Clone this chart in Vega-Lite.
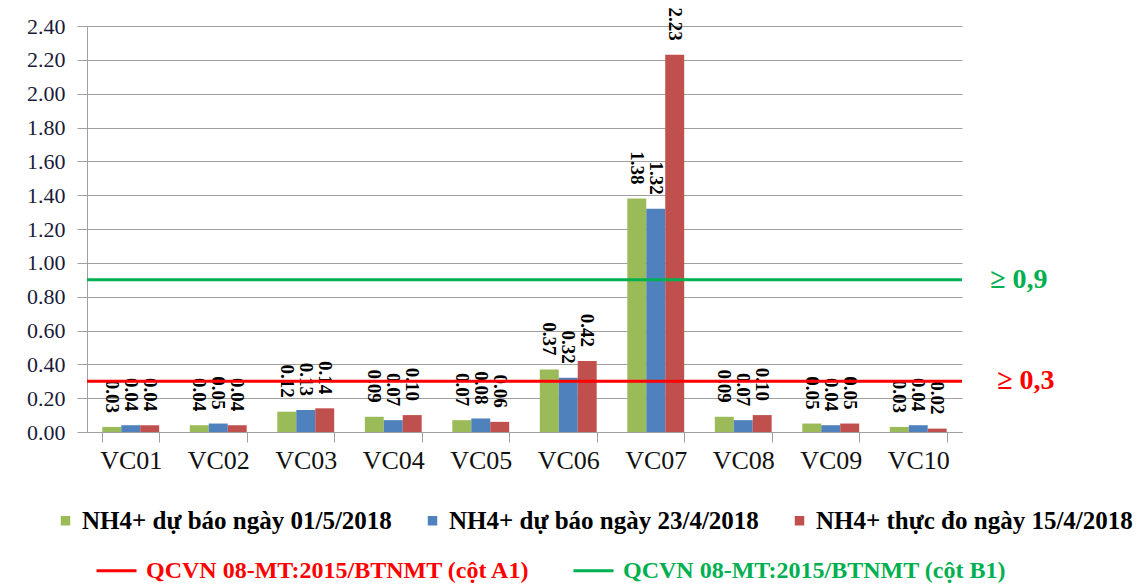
{
  "$schema": "https://vega.github.io/schema/vega-lite/v6.json",
  "width": 875,
  "height": 406,
  "autosize": {"type": "none"},
  "padding": {"left": 87, "top": 26, "right": 181, "bottom": 152},
  "background": "white",
  "config": {
    "view": {"stroke": null},
    "font": "Times New Roman, Liberation Serif, serif",
    "axis": {"gridColor": "#a0a0a0", "tickColor": "#a0a0a0", "domainColor": "#a0a0a0", "labelFont": "Times New Roman, Liberation Serif, serif", "labelColor": "#1a1a1a", "title": null},
    "legend": {"labelFont": "Times New Roman, Liberation Serif, serif"}
  },
  "datasets": {
    "bars": [
      {"site": "VC01", "series": "NH4+ dự báo ngày 01/5/2018", "value": 0.03},
      {"site": "VC01", "series": "NH4+ dự báo ngày 23/4/2018", "value": 0.04},
      {"site": "VC01", "series": "NH4+ thực đo ngày 15/4/2018", "value": 0.04},
      {"site": "VC02", "series": "NH4+ dự báo ngày 01/5/2018", "value": 0.04},
      {"site": "VC02", "series": "NH4+ dự báo ngày 23/4/2018", "value": 0.05},
      {"site": "VC02", "series": "NH4+ thực đo ngày 15/4/2018", "value": 0.04},
      {"site": "VC03", "series": "NH4+ dự báo ngày 01/5/2018", "value": 0.12},
      {"site": "VC03", "series": "NH4+ dự báo ngày 23/4/2018", "value": 0.13},
      {"site": "VC03", "series": "NH4+ thực đo ngày 15/4/2018", "value": 0.14},
      {"site": "VC04", "series": "NH4+ dự báo ngày 01/5/2018", "value": 0.09},
      {"site": "VC04", "series": "NH4+ dự báo ngày 23/4/2018", "value": 0.07},
      {"site": "VC04", "series": "NH4+ thực đo ngày 15/4/2018", "value": 0.10},
      {"site": "VC05", "series": "NH4+ dự báo ngày 01/5/2018", "value": 0.07},
      {"site": "VC05", "series": "NH4+ dự báo ngày 23/4/2018", "value": 0.08},
      {"site": "VC05", "series": "NH4+ thực đo ngày 15/4/2018", "value": 0.06},
      {"site": "VC06", "series": "NH4+ dự báo ngày 01/5/2018", "value": 0.37},
      {"site": "VC06", "series": "NH4+ dự báo ngày 23/4/2018", "value": 0.32},
      {"site": "VC06", "series": "NH4+ thực đo ngày 15/4/2018", "value": 0.42},
      {"site": "VC07", "series": "NH4+ dự báo ngày 01/5/2018", "value": 1.38},
      {"site": "VC07", "series": "NH4+ dự báo ngày 23/4/2018", "value": 1.32},
      {"site": "VC07", "series": "NH4+ thực đo ngày 15/4/2018", "value": 2.23},
      {"site": "VC08", "series": "NH4+ dự báo ngày 01/5/2018", "value": 0.09},
      {"site": "VC08", "series": "NH4+ dự báo ngày 23/4/2018", "value": 0.07},
      {"site": "VC08", "series": "NH4+ thực đo ngày 15/4/2018", "value": 0.10},
      {"site": "VC09", "series": "NH4+ dự báo ngày 01/5/2018", "value": 0.05},
      {"site": "VC09", "series": "NH4+ dự báo ngày 23/4/2018", "value": 0.04},
      {"site": "VC09", "series": "NH4+ thực đo ngày 15/4/2018", "value": 0.05},
      {"site": "VC10", "series": "NH4+ dự báo ngày 01/5/2018", "value": 0.03},
      {"site": "VC10", "series": "NH4+ dự báo ngày 23/4/2018", "value": 0.04},
      {"site": "VC10", "series": "NH4+ thực đo ngày 15/4/2018", "value": 0.02}
    ],
    "thr": [
      {"name": "QCVN 08-MT:2015/BTNMT (cột A1)", "value": 0.3, "label": "≥ 0,3"},
      {"name": "QCVN 08-MT:2015/BTNMT (cột B1)", "value": 0.9, "label": "≥ 0,9"}
    ]
  },
  "encoding": {
    "y": {"field": "value", "type": "quantitative",
      "scale": {"domain": [0, 2.4], "nice": false},
      "axis": {"values": [0, 0.2, 0.4, 0.6, 0.8, 1.0, 1.2, 1.4, 1.6, 1.8, 2.0, 2.2, 2.4], "tickCount": 20, "format": ".2f", "labelFontSize": 22, "labelOverlap": false, "labelColor": "#1a1a3a", "tickSize": 10, "labelPadding": 12, "grid": true}}
  },
  "layer": [
    {
      "data": {"name": "bars"},
      "mark": {"type": "bar"},
      "encoding": {
        "x": {"field": "site", "type": "nominal", "sort": null,
          "scale": {"paddingInner": 0.35, "paddingOuter": 0.175},
          "axis": {"labelAngle": 0, "labelFontSize": 26, "labelColor": "#111111", "tickBand": "extent", "tickSize": 10, "labelPadding": 5, "grid": false}},
        "xOffset": {"field": "series", "type": "nominal", "sort": null, "scale": {"paddingInner": 0, "paddingOuter": 0}},
        "color": {"field": "series", "type": "nominal", "sort": null,
          "scale": {"domain": ["NH4+ dự báo ngày 01/5/2018", "NH4+ dự báo ngày 23/4/2018", "NH4+ thực đo ngày 15/4/2018"], "range": ["#9bbb59", "#4f81bd", "#c0504d"]},
          "legend": {"title": null, "orient": "none", "legendX": -34, "legendY": 482, "direction": "horizontal", "columns": 3, "columnPadding": 28, "symbolType": "square", "symbolSize": 90, "symbolStrokeWidth": 0, "labelFont": "Times New Roman, Liberation Serif, serif", "labelFontWeight": "bold", "labelFontSize": 25, "labelColor": "#000000", "labelOffset": 4, "labelLimit": 0}}
      }
    },
    {
      "data": {"name": "bars"},
      "mark": {"type": "text", "angle": 90, "align": "right", "baseline": "middle", "dx": -14, "font": "Times New Roman, Liberation Serif, serif", "fontWeight": "bold", "fontSize": 19, "color": "#000000"},
      "encoding": {
        "x": {"field": "site", "type": "nominal", "sort": null},
        "xOffset": {"field": "series", "type": "nominal", "sort": null},
        "text": {"field": "value", "type": "quantitative", "format": ".2f"}
      }
    },
    {
      "data": {"name": "thr"},
      "mark": {"type": "rule", "strokeWidth": 3},
      "encoding": {
        "stroke": {"field": "name", "type": "nominal",
          "scale": {"domain": ["QCVN 08-MT:2015/BTNMT (cột A1)", "QCVN 08-MT:2015/BTNMT (cột B1)"], "range": ["#ff0000", "#00b050"]},
          "legend": {"title": null, "orient": "none", "legendX": 8, "legendY": 523, "direction": "horizontal", "columns": 2, "columnPadding": 36, "symbolType": "stroke", "symbolSize": 1600, "symbolStrokeWidth": 3, "labelFont": "Times New Roman, Liberation Serif, serif", "labelFontWeight": "bold", "labelFontSize": 24, "labelOffset": 8, "labelLimit": 0,
            "encode": {"labels": {"update": {"fill": {"signal": "datum.value == 'QCVN 08-MT:2015/BTNMT (cột A1)' ? '#ff0000' : '#00b050'"}}}}}}
      }
    },
    {
      "data": {"name": "thr"},
      "transform": [{"filter": "datum.value > 0.5"}],
      "mark": {"type": "text", "align": "left", "baseline": "middle", "dx": 72, "font": "Times New Roman, Liberation Serif, serif", "fontWeight": "bold", "fontSize": 28, "color": "#00b050"},
      "encoding": {
        "x": {"datum": "VC10", "type": "nominal"},
        "text": {"field": "label"}
      }
    },
    {
      "data": {"name": "thr"},
      "transform": [{"filter": "datum.value < 0.5"}],
      "mark": {"type": "text", "align": "left", "baseline": "middle", "dx": 79, "font": "Times New Roman, Liberation Serif, serif", "fontWeight": "bold", "fontSize": 28, "color": "#ff0000"},
      "encoding": {
        "x": {"datum": "VC10", "type": "nominal"},
        "text": {"field": "label"}
      }
    }
  ]
}
